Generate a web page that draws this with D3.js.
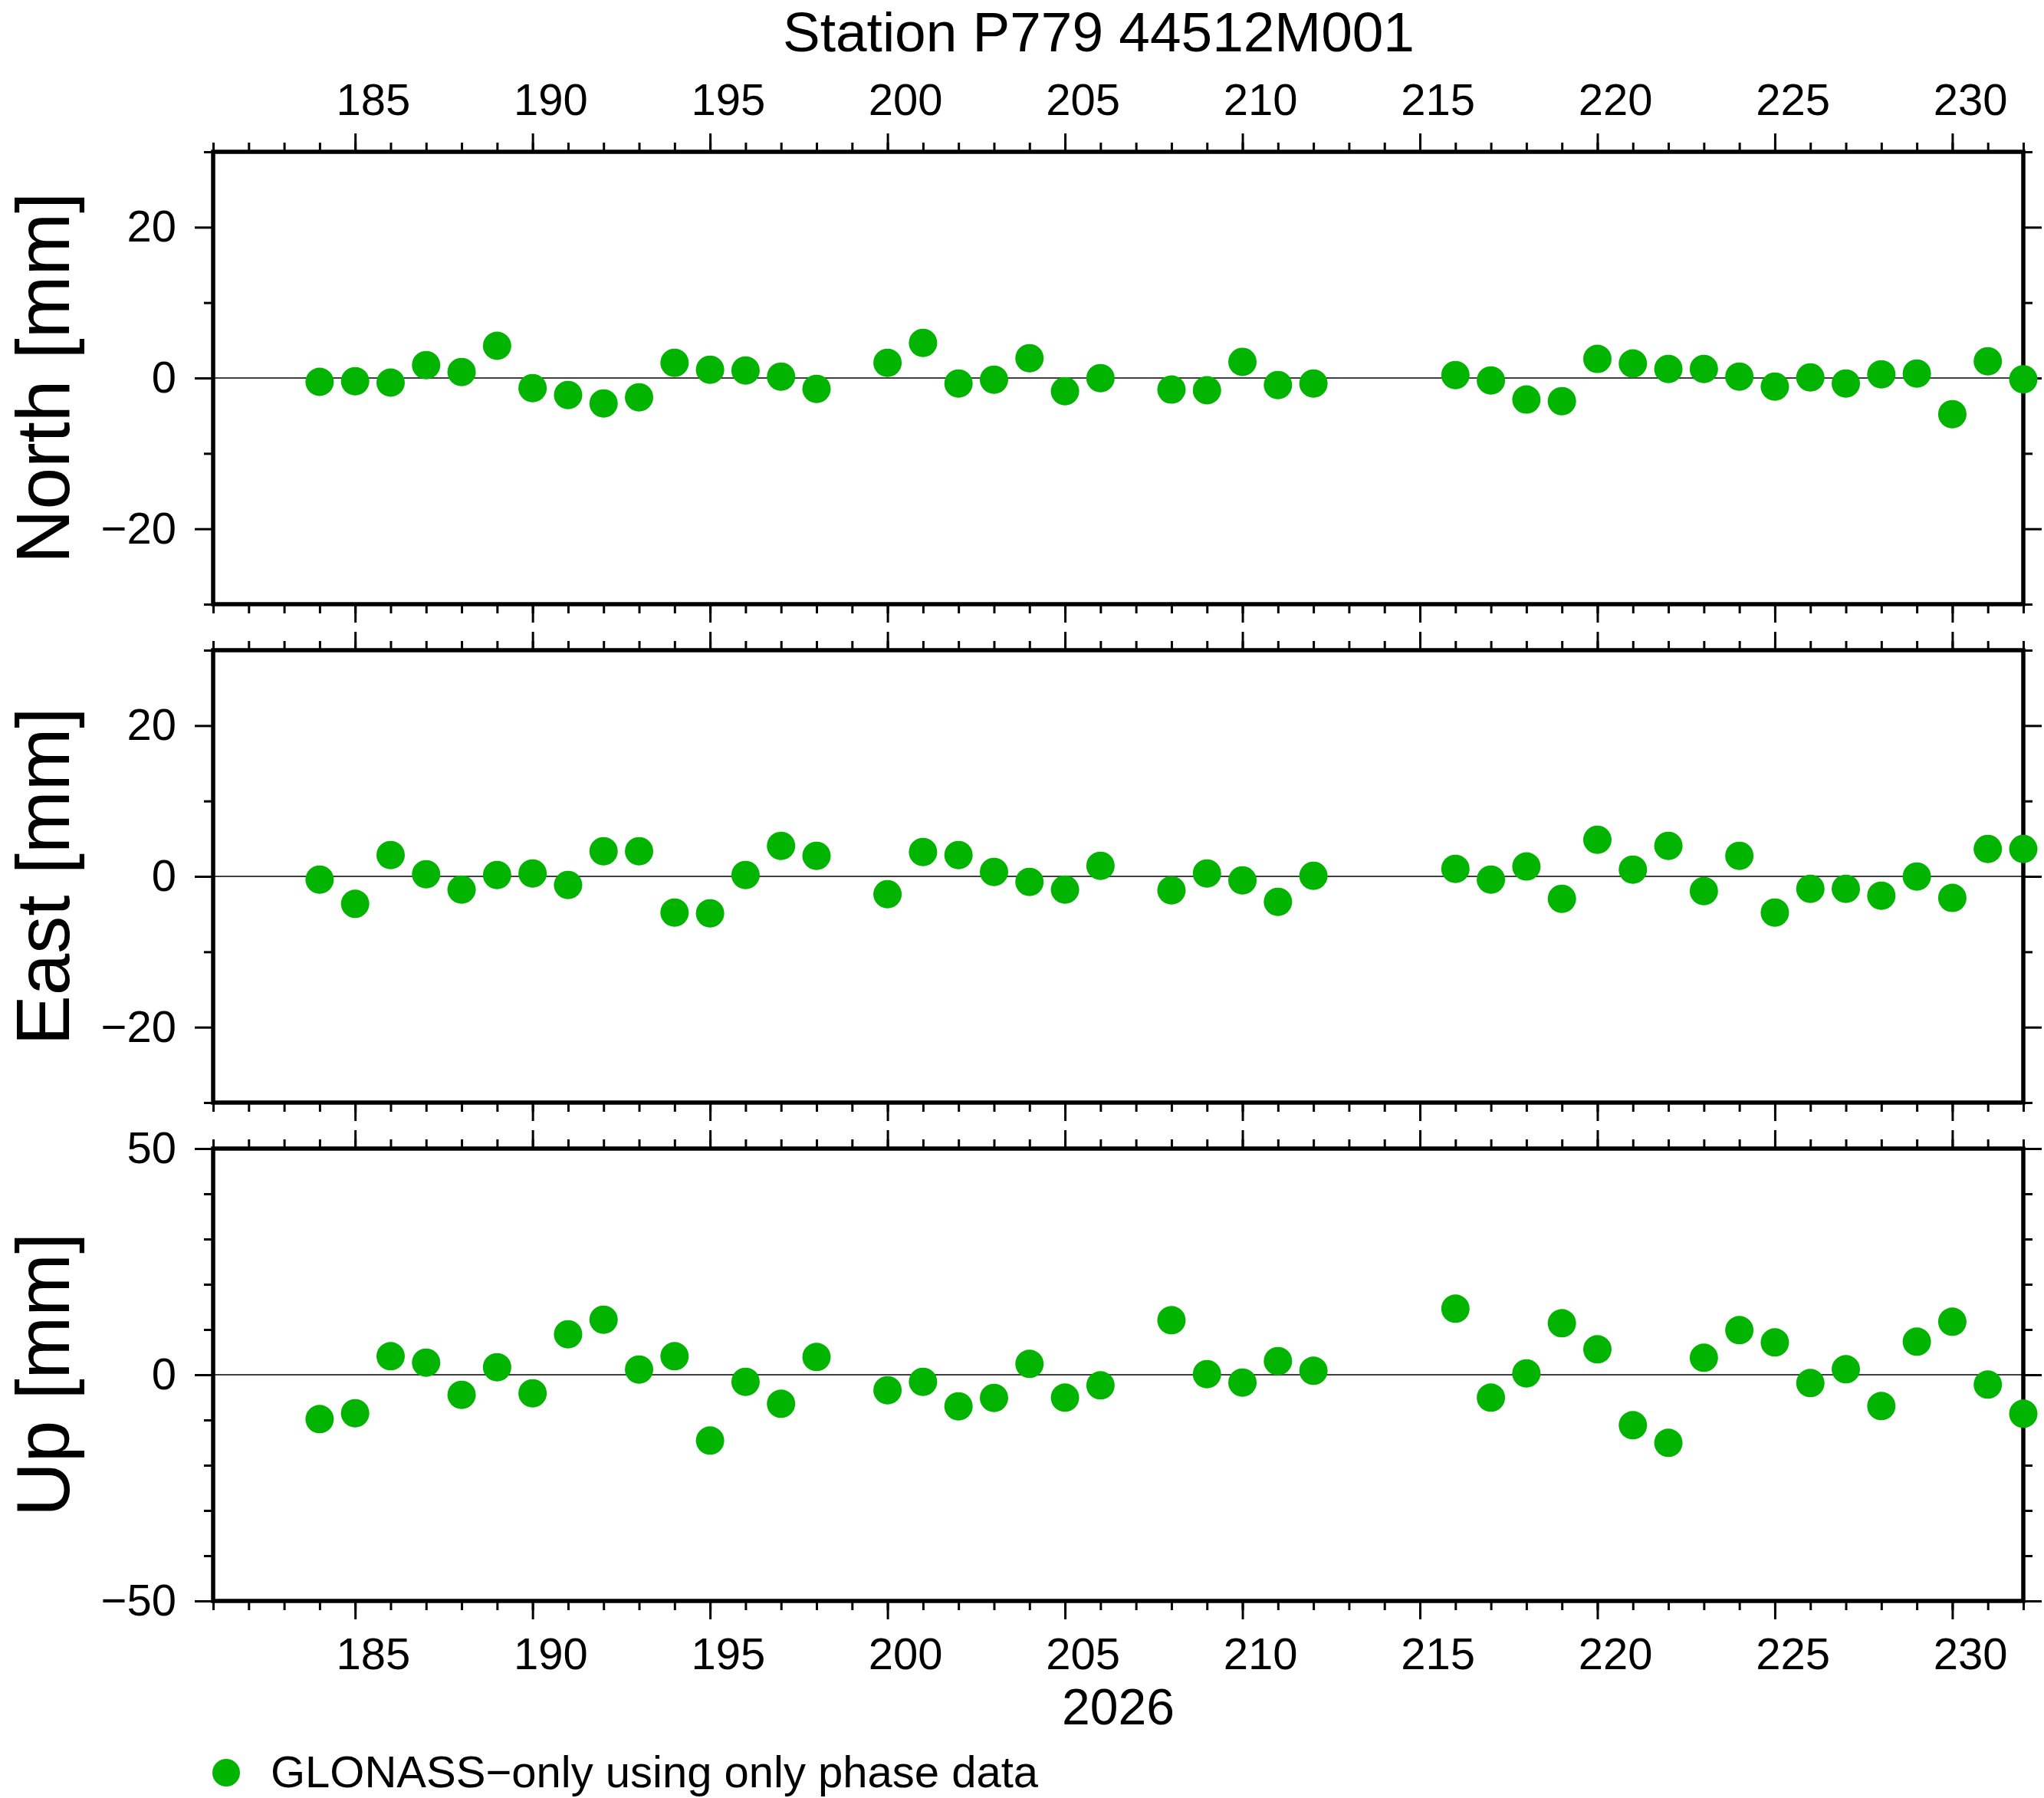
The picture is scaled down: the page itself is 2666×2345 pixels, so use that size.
<!DOCTYPE html>
<html>
<head>
<meta charset="utf-8">
<script src="https://cdn.jsdelivr.net/npm/d3@7"></script>
<style>
  body { margin: 0; background: #fff; }
  text { font-family: "Liberation Sans", Arial, Helvetica, sans-serif; fill: #000; }
</style>
</head>
<body>
<svg id="chart" width="2666" height="2345"></svg>
<script>
var days = [184, 185, 186, 187, 188, 189, 190, 191, 192, 193, 194, 195, 196, 197, 198,
  200, 201, 202, 203, 204, 205, 206,
  208, 209, 210, 211, 212,
  216, 217, 218, 219, 220, 221, 222, 223, 224, 225, 226, 227, 228, 229, 230, 231, 232];

var north = [-0.51, -0.42, -0.61, 1.71, 0.80, 4.27, -1.34, -2.25, -3.37, -2.56, 2.02, 1.10, 1.00, 0.19, -1.44,
  2.02, 4.66, -0.73, -0.22, 2.63, -1.75, -0.02,
  -1.53, -1.63, 2.14, -0.93, -0.73,
  0.39, -0.32, -2.86, -3.07, 2.53, 1.92, 1.20, 1.20, 0.19, -1.14, 0.08, -0.73, 0.49, 0.59, -4.80, 2.22, -0.17];

var east = [-0.42, -3.64, 2.83, 0.29, -1.75, 0.19, 0.39, -1.14, 3.34, 3.34, -4.80, -4.90, 0.19, 4.05, 2.73,
  -2.36, 3.24, 2.83, 0.59, -0.73, -1.75, 1.41,
  -1.85, 0.39, -0.53, -3.37, 0.08,
  1.00, -0.42, 1.31, -2.97, 4.86, 0.90, 4.05, -1.95, 2.73, -4.80, -1.64, -1.64, -2.56, -0.02, -2.86, 3.64, 3.64];

var up = [-9.80, -8.50, 4.10, 2.68, -4.44, 1.67, -4.10, 8.95, 12.18, 1.16, 4.10, -14.55, -1.55, -6.41, 3.93,
  -3.42, -1.55, -6.98, -5.11, 2.40, -5.06, -2.34,
  12.06, 0.14, -1.72, 3.02, 0.88,
  14.60, -5.06, 0.31, 11.38, 5.62, -11.16, -15.06, 3.76, 9.86, 7.15, -1.84, 1.21, -6.92, 7.32, 11.72, -2.17, -8.62];

var xMajor = [185, 190, 195, 200, 205, 210, 215, 220, 225, 230];
var xMinor = d3.range(181, 233);

var panelNames = ["North [mm]", "East [mm]", "Up [mm]"];
var panelValues = [north, east, up];
var yDomains = [[-30, 30], [-30, 30], [-50, 50]];
var yMajorTicks = [[-20, 0, 20], [-20, 0, 20], [-50, 0, 50]];
var yMinorTicks = [[-30, -10, 10, 30], [-30, -10, 10, 30], [-40, -30, -20, -10, 10, 20, 30, 40]];

var title = "Station P779 44512M001";
var yearLabel = "2026";
var legendLabel = "GLONASS\u2212only using only phase data";

var width = 2666, height = 2345;
var left = 278, right = 2639;
var panelTop = [198, 848, 1498];
var panelH = 590;
var green = "rgb(0,180,0)";
var majorLen = 24, minorLen = 12;

var svg = d3.select("#chart");

var x = d3.scaleLinear().domain([181, 232]).range([left, right]);
var halfDay = (x(186) - x(185)) / 2;

function styleAxis(g) {
  g.select(".domain").remove();
  g.selectAll("line").attr("stroke", "#000").attr("stroke-width", 3);
  g.selectAll("text").style("font-size", "58px").attr("fill", "#000");
}

panelValues.forEach(function (vals, p) {
  var top = panelTop[p], bottom = top + panelH;
  var y = d3.scaleLinear().domain(yDomains[p]).range([bottom, top]);
  var g = svg.append("g");

  // zero line
  g.append("line")
    .attr("x1", left).attr("x2", right)
    .attr("y1", y(0)).attr("y2", y(0))
    .attr("stroke", "#000").attr("stroke-width", 1.3);

  // x axes: top and bottom of every panel
  [["top", top], ["bottom", bottom]].forEach(function (side) {
    var mk = side[0] === "top" ? d3.axisTop : d3.axisBottom;
    g.append("g").attr("transform", "translate(0," + side[1] + ")")
      .call(mk(x).tickValues(xMinor).tickSize(minorLen).tickFormat(""))
      .call(styleAxis);
    var showLabels = (side[0] === "top" && p === 0) || (side[0] === "bottom" && p === 2);
    var ax = g.append("g").attr("transform", "translate(0," + side[1] + ")")
      .call(mk(x).tickValues(xMajor).tickSize(majorLen).tickPadding(24)
        .tickFormat(showLabels ? d3.format("d") : ""))
      .call(styleAxis);
    ax.selectAll("text").attr("x", halfDay);
  });

  // y axes: left (labelled) and right
  g.append("g").attr("transform", "translate(" + left + ",0)")
    .call(d3.axisLeft(y).tickValues(yMinorTicks[p]).tickSize(minorLen).tickFormat(""))
    .call(styleAxis);
  g.append("g").attr("transform", "translate(" + left + ",0)")
    .call(d3.axisLeft(y).tickValues(yMajorTicks[p]).tickSize(majorLen).tickPadding(24))
    .call(styleAxis);
  g.append("g").attr("transform", "translate(" + right + ",0)")
    .call(d3.axisRight(y).tickValues(yMinorTicks[p]).tickSize(minorLen).tickFormat(""))
    .call(styleAxis);
  g.append("g").attr("transform", "translate(" + right + ",0)")
    .call(d3.axisRight(y).tickValues(yMajorTicks[p]).tickSize(majorLen).tickFormat(""))
    .call(styleAxis);

  // frame
  g.append("rect")
    .attr("x", left).attr("y", top)
    .attr("width", right - left).attr("height", panelH)
    .attr("fill", "none").attr("stroke", "#000").attr("stroke-width", 5.5);

  // points
  g.selectAll("circle.pt")
    .data(days)
    .enter()
    .append("circle")
    .attr("class", "pt")
    .attr("cx", function (d) { return x(d); })
    .attr("cy", function (d, i) { return y(vals[i]); })
    .attr("r", 18.5)
    .attr("fill", green);

  // y label
  svg.append("text")
    .attr("transform", "translate(90," + (top + panelH / 2) + ") rotate(-90)")
    .attr("text-anchor", "middle")
    .style("font-size", "98px")
    .text(panelNames[p]);
});

// title
svg.append("text")
  .attr("x", 1433).attr("y", 67)
  .attr("text-anchor", "middle")
  .style("font-size", "73px")
  .text(title);

// year label
svg.append("text")
  .attr("x", (left + right) / 2).attr("y", 2249)
  .attr("text-anchor", "middle")
  .style("font-size", "66px")
  .text(yearLabel);

// legend
svg.append("circle")
  .attr("cx", 295).attr("cy", 2312).attr("r", 18)
  .attr("fill", green);
svg.append("text")
  .attr("x", 353).attr("y", 2331)
  .style("font-size", "58px")
  .text(legendLabel);
</script>
</body>
</html>
